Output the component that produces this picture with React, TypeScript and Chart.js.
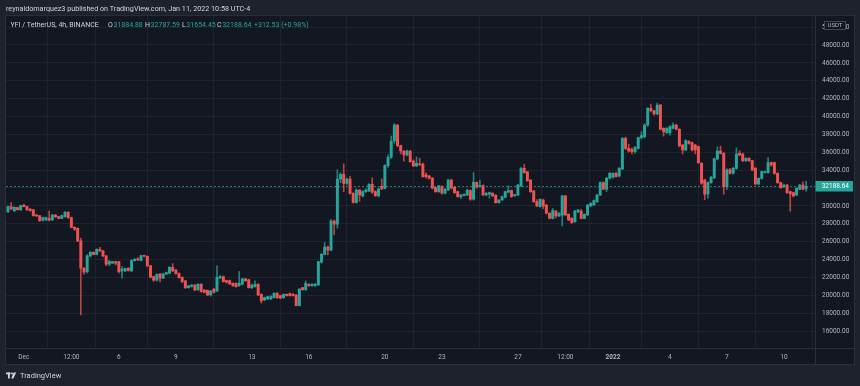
import React, { useEffect, useRef } from 'react';
import { Chart, registerables } from 'chart.js';

Chart.register(...registerables);

// ---- Data (4h candles, YFI/USDT, Nov 30 2021 -> Jan 11 2022) ----
const opens = [
  29357, 29880, 29430, 29800, 29560, 30100, 29920, 29650, 29550, 28980,
  28910, 28390, 28420, 28610, 28420, 28980, 28800, 28610, 28800, 29280,
  28690, 27600, 27490, 26080, 23020, 22640, 24400, 24810, 24580, 25140,
  24960, 24400, 23470, 23600, 23760, 23760, 22720, 22720, 23020, 22720,
  23870, 24060, 23910, 24430, 24360, 23280, 22080, 21680, 22380, 21900,
  22380, 22460, 23130, 22830, 22420, 22010, 21600, 20850, 20980, 21150,
  20630, 21220, 20560, 20550, 20030, 20700, 20480, 21950, 22100, 21640,
  21640, 21340, 21340, 21080, 21230, 21830, 21720, 20850, 20960, 21230,
  20110, 19480, 19590, 19590, 19740, 20220, 19960, 19740, 20110, 20180,
  20110, 20030, 18840, 20850, 20630, 21230, 21080, 21080, 21150, 23690,
  24580, 25400, 25030, 28310, 27940, 33010, 33530, 32520, 32990, 31400,
  30400, 31780, 31110, 31600, 31670, 32410, 31590, 31100, 32200, 31960,
  34500, 35430, 37260, 39050, 36740, 36140, 35700, 36140, 35020, 34470,
  34690, 34690, 33460, 33350, 33090, 32040, 31590, 32150, 31410, 31780,
  32900, 32080, 31590, 31030, 31150, 31220, 31710, 30740, 32640, 32150,
  32270, 31220, 31300, 31410, 31180, 30360, 30660, 30960, 31520, 31710,
  31150, 31220, 32230, 34200, 33800, 32900, 31670, 30470, 29920, 30660,
  30100, 29170, 28610, 29430, 28870, 28950, 31110, 29060, 28610, 28240,
  29320, 29430, 28610, 28980, 29990, 30100, 30480, 31220, 32600, 31860,
  33090, 33200, 33640, 33350, 34130, 37560, 36440, 36330, 36070, 36440,
  37630, 37750, 39050, 40910, 40650, 40280, 41290, 38680, 38190, 38190,
  38680, 39050, 38570, 36810, 36250, 37190, 37070, 36810, 36630, 34760,
  32900, 31300, 32600, 33160, 35250, 36140, 35880, 32150, 34020, 33650,
  34200, 35880, 35800, 35060, 35320, 35060, 34200, 32450, 33080, 33720,
  33720, 34840, 34840, 33640, 32600, 32150, 32340, 31600, 31480, 31220,
  31850, 32340, 31884.88,
];
const highs = [
  29990, 30360, 29900, 29860, 30080, 30180, 29990, 29700, 29600, 29050,
  28950, 28750, 28750, 29430, 29050, 29050, 28850, 28980, 29400, 29350,
  28750, 27650, 27550, 26400, 23100, 24550, 24900, 24900, 25200, 25350,
  25000, 24450, 23900, 23800, 23800, 23800, 23200, 23050, 23100, 23950,
  24100, 24200, 24500, 24500, 24400, 23350, 22150, 22400, 22450, 22450,
  22600, 23200, 23550, 22900, 22500, 22050, 21650, 21100, 21200, 21200,
  21300, 21300, 20650, 20600, 20550, 20750, 23280, 22200, 22150, 21700,
  21700, 21400, 21400, 22650, 21900, 21900, 21800, 21250, 21600, 21300,
  20150, 19800, 19900, 19950, 20300, 20300, 20000, 20150, 20150, 20250,
  20200, 20100, 20750, 20900, 21600, 21300, 21300, 21300, 23800, 24650,
  25900, 25500, 28500, 28400, 34020, 33700, 34700, 33100, 33300, 31500,
  31900, 31850, 31700, 31900, 32500, 33150, 31700, 32000, 33000, 34600,
  35700, 37800, 39200, 39100, 36800, 36200, 36250, 36200, 35140, 35500,
  35350, 34800, 33700, 33400, 33200, 32100, 32300, 32250, 31950, 33000,
  33000, 32150, 31650, 31300, 31350, 31850, 31800, 33720, 32700, 32900,
  32350, 31500, 31550, 31500, 31250, 30700, 31100, 31650, 32250, 31800,
  31300, 32400, 34300, 34690, 33850, 32950, 31700, 30700, 30800, 30750,
  30150, 29250, 29700, 29500, 29250, 31150, 31150, 29100, 28700, 29500,
  29600, 29600, 29100, 30150, 30350, 30650, 31300, 32700, 32700, 33200,
  33750, 33700, 33750, 34300, 37650, 37700, 36900, 36500, 36650, 37700,
  38300, 39200, 41000, 41400, 40700, 41500, 41350, 38750, 38750, 38950,
  39300, 39150, 38650, 36900, 37400, 37300, 37150, 36900, 36700, 34850,
  33000, 32700, 33300, 35350, 36600, 36700, 35950, 34150, 34200, 34300,
  36500, 36150, 35900, 35400, 35400, 35100, 34300, 33150, 33900, 33900,
  35400, 34900, 34900, 33700, 32650, 32450, 32400, 31650, 31550, 32050,
  32400, 32700, 32787.59,
];
const lows = [
  29250, 29580, 29380, 29520, 29500, 29880, 29500, 29400, 28850, 28800,
  28250, 28300, 28380, 28330, 28380, 28700, 28550, 28560, 28750, 28600,
  27550, 27250, 26000, 17800, 22350, 22500, 24300, 24500, 24500, 24900,
  24300, 23300, 23350, 23550, 23400, 22500, 21900, 22650, 22700, 22650,
  23800, 23900, 23850, 24300, 23200, 21950, 21550, 21600, 21500, 21850,
  22300, 22400, 22650, 22350, 21900, 21400, 20750, 20800, 20900, 20500,
  20550, 20350, 20250, 19950, 19900, 20250, 20400, 21850, 21450, 21350,
  21200, 21000, 20900, 21000, 21150, 21550, 20800, 20750, 20900, 19950,
  19100, 19400, 19500, 19500, 19700, 19650, 19600, 19650, 19900, 19900,
  19900, 18800, 18800, 20550, 20550, 21000, 21000, 21000, 21100, 23600,
  24500, 24500, 24950, 26750, 27500, 32600, 31600, 32400, 31300, 30300,
  30300, 30500, 31000, 31500, 31600, 31400, 31050, 31000, 31800, 31900,
  34300, 35300, 37000, 36600, 35800, 35000, 35600, 34900, 34400, 34400,
  34500, 33200, 33100, 33000, 31900, 31500, 31500, 31300, 31350, 31700,
  31900, 31400, 30950, 30800, 31100, 31150, 30600, 30650, 31950, 32100,
  31150, 31150, 30850, 31050, 30300, 30300, 30600, 30900, 31450, 30950,
  31050, 31150, 32150, 33650, 32750, 31500, 30400, 29900, 29850, 29700,
  29100, 28550, 28550, 28650, 28800, 27750, 28900, 28350, 28050, 28150,
  29250, 28550, 28550, 28900, 29950, 30050, 30400, 31150, 31800, 31600,
  33000, 33100, 33200, 33250, 34050, 36300, 36000, 35800, 35900, 36350,
  37500, 37600, 38900, 40500, 40150, 40200, 38500, 37800, 38100, 37900,
  38600, 38500, 36600, 35800, 36150, 36900, 36150, 35800, 34750, 32400,
  30700, 30850, 32500, 33050, 35150, 35800, 31300, 31800, 33550, 33550,
  34100, 35600, 34950, 34950, 34950, 33900, 32350, 32350, 33000, 33650,
  33650, 34450, 33550, 32500, 31950, 32050, 31400, 29400, 31000, 31150,
  31800, 31780, 31654.45,
];
const closes = [
  29916, 29650, 29840, 29580, 30030, 29920, 29550, 29470, 28910, 28870,
  28350, 28690, 28690, 28390, 28980, 28760, 28610, 28910, 29280, 28690,
  27600, 27380, 26080, 23020, 22570, 24400, 24810, 24580, 25140, 24960,
  24400, 23470, 23760, 23760, 23580, 22640, 22940, 23020, 22790, 23870,
  24020, 23950, 24430, 24360, 23280, 22010, 21680, 22350, 21900, 22380,
  22530, 23130, 22720, 22420, 21970, 21530, 20850, 21050, 21150, 20560,
  21220, 20410, 20330, 20030, 20480, 20330, 22010, 22100, 21530, 21450,
  21260, 21080, 20970, 21340, 21830, 21640, 20850, 21150, 21230, 20030,
  19360, 19740, 19850, 19850, 20220, 19740, 19660, 20110, 19960, 19960,
  19960, 18840, 20700, 20630, 21340, 21080, 21230, 21260, 23760, 24580,
  25400, 25080, 28310, 27940, 33010, 33530, 32520, 32990, 31400, 30400,
  31780, 31220, 31590, 31780, 32410, 31520, 31140, 31890, 31900, 34500,
  35430, 37260, 39050, 36740, 36140, 35700, 36140, 34950, 34470, 34760,
  34600, 33270, 33270, 33090, 31970, 31590, 32230, 31410, 31860, 32900,
  31970, 31480, 31030, 31220, 31300, 31780, 30740, 32640, 32080, 32270,
  31220, 31410, 31480, 31110, 30360, 30660, 31030, 31590, 31710, 31030,
  31220, 32340, 34200, 33720, 32820, 31590, 30470, 29990, 30740, 29990,
  29170, 28610, 29470, 28870, 29170, 31110, 28980, 28420, 28130, 29430,
  29540, 28610, 29060, 30100, 30290, 30590, 31220, 32600, 31860, 33090,
  33640, 33640, 33270, 34200, 37560, 36440, 36140, 36070, 36550, 37630,
  37860, 39050, 40910, 40650, 40280, 41290, 38570, 38300, 38680, 38860,
  39050, 38570, 36700, 36250, 37300, 37000, 36250, 36250, 34840, 32530,
  31300, 32640, 33200, 35250, 36140, 35880, 32150, 34020, 33650, 34200,
  35800, 35700, 35060, 35320, 35060, 34020, 32450, 33080, 33830, 33830,
  34840, 34580, 33640, 32600, 32040, 32340, 31480, 31330, 31110, 31970,
  32340, 31880, 32188.64,
];

const timeTickIndex = [5, 20, 35, 53, 77, 95, 119, 137, 161, 176, 191, 209, 227, 245];
const timeTickLabels = ['Dec', '12:00', '6', '9', '13', '16', '20', '23', '27', '12:00', '2022', '4', '7', '10'];
const priceTickValues = [16000, 18000, 20000, 22000, 24000, 26000, 28000, 30000, 32000, 34000, 36000, 38000, 40000, 42000, 44000, 46000, 48000, 50000];

const headerText = 'reynaldomarquez3 published on TradingView.com, Jan 11, 2022 10:58 UTC-4';
const symbolText = 'YFI / TetherUS, 4h, BINANCE';
const ohlcLabels = ['O', 'H', 'L', 'C'];
const ohlcValues = ['31884.88', '32787.59', '31654.45', '32188.64'];
const changeText = '+312.53 (+0.98%)';
const lastPrice = 32188.64;
const currencyText = 'USDT';
const footerText = 'TradingView';

// ---- Styles ----
const OUTER_BG = '#1e222d';
const PANE_BG = '#131722';
const BORDER = '#2a2e39';
const GRID = 'rgba(42,46,57,0.55)';
const TEXT = '#b2b5be';
const TEXT_LIGHT = '#d1d4dc';
const UP = '#26a69a';
const DOWN = '#ef5350';
const UP_WICK = 'rgba(38,166,154,0.75)';
const DOWN_WICK = 'rgba(239,83,80,0.75)';
const FONT = 'Roboto, "Liberation Sans", Arial, sans-serif';

const PANE = { left: 5.5, top: 15.5, right: 854.5, bottom: 364.5 };
const PLOT_RIGHT = 815.5;
const PLOT_BOTTOM = 348.5;
const LEGEND_X = [108, 145, 182, 217];
const CHANGE_X = 254;

const framePlugin = {
  id: 'tvFrame',
  beforeDraw(chart: any) {
    const { ctx, width, height } = chart;
    ctx.save();
    ctx.fillStyle = OUTER_BG;
    ctx.fillRect(0, 0, width, height);
    ctx.fillStyle = PANE_BG;
    ctx.fillRect(PANE.left, PANE.top, PANE.right - PANE.left, PANE.bottom - PANE.top);
    ctx.restore();
  },
  beforeDatasetsDraw(chart: any) {
    const { ctx, chartArea } = chart;
    const y = Math.round(chart.scales.y.getPixelForValue(lastPrice)) + 0.5;
    ctx.save();
    ctx.strokeStyle = 'rgba(38,166,154,0.7)';
    ctx.lineWidth = 1;
    ctx.setLineDash([2, 2]);
    ctx.beginPath();
    ctx.moveTo(chartArea.left, y);
    ctx.lineTo(chartArea.right, y);
    ctx.stroke();
    ctx.restore();
  },
  afterDraw(chart: any) {
    const { ctx } = chart;
    ctx.save();
    // frame lines
    ctx.strokeStyle = BORDER;
    ctx.lineWidth = 1;
    ctx.strokeRect(PANE.left, PANE.top, PANE.right - PANE.left, PANE.bottom - PANE.top);
    ctx.beginPath();
    ctx.moveTo(PLOT_RIGHT, PANE.top);
    ctx.lineTo(PLOT_RIGHT, PANE.bottom);
    ctx.moveTo(PANE.left, PLOT_BOTTOM);
    ctx.lineTo(PANE.right, PLOT_BOTTOM);
    ctx.stroke();

    // header
    ctx.textBaseline = 'middle';
    ctx.textAlign = 'left';
    ctx.fillStyle = TEXT_LIGHT;
    ctx.font = `7.2px ${FONT}`;
    ctx.fillText(headerText, 6, 9);

    // legend line
    ctx.font = `7px ${FONT}`;
    const ly = 25;
    ctx.fillStyle = TEXT_LIGHT;
    ctx.fillText(symbolText, 10.5, ly);
    for (let i = 0; i < ohlcLabels.length; i++) {
      ctx.fillStyle = TEXT_LIGHT;
      ctx.fillText(ohlcLabels[i], LEGEND_X[i], ly);
      const w = ctx.measureText(ohlcLabels[i]).width;
      ctx.fillStyle = UP;
      ctx.fillText(ohlcValues[i], LEGEND_X[i] + w + 0.6, ly);
    }
    ctx.fillStyle = UP;
    ctx.fillText(changeText, CHANGE_X, ly);

    // USDT box
    ctx.fillStyle = PANE_BG;
    ctx.fillRect(824.5, 21.5, 21, 8);
    ctx.strokeStyle = '#434651';
    ctx.strokeRect(824.5, 21.5, 21, 8);
    ctx.fillStyle = TEXT;
    ctx.textAlign = 'center';
    ctx.font = `6px ${FONT}`;
    ctx.fillText(currencyText, 835, 25.7);

    // last price label
    const py = chart.scales.y.getPixelForValue(lastPrice);
    ctx.fillStyle = UP;
    ctx.fillRect(PLOT_RIGHT, Math.round(py) - 5, 853 - PLOT_RIGHT, 10.5);
    ctx.fillStyle = '#ffffff';
    ctx.textAlign = 'right';
    ctx.font = `6.5px ${FONT}`;
    ctx.fillText(lastPrice.toFixed(2), 849, Math.round(py) + 0.3);

    // footer logo + text
    ctx.fillStyle = TEXT_LIGHT;
    ctx.fillRect(6, 372.5, 4.5, 1.8);
    ctx.fillRect(8, 372.5, 1.8, 6);
    ctx.beginPath();
    ctx.arc(12, 373.6, 1, 0, Math.PI * 2);
    ctx.fill();
    ctx.beginPath();
    ctx.moveTo(13.6, 372.5);
    ctx.lineTo(16.2, 372.5);
    ctx.lineTo(13.4, 378.5);
    ctx.lineTo(11.2, 378.5);
    ctx.closePath();
    ctx.fill();
    ctx.textAlign = 'left';
    ctx.font = `7.5px ${FONT}`;
    ctx.fillText(footerText, 20, 376);
    ctx.restore();
  },
};

export default function App() {
  const canvasRef = useRef<HTMLCanvasElement | null>(null);

  useEffect(() => {
    document.body.style.margin = '0';
    document.body.style.background = OUTER_BG;
    const canvas = canvasRef.current;
    if (!canvas) return;

    const n = closes.length;
    const bodyData = [] as any[];
    const wickData = [] as any[];
    const bodyColors: string[] = [];
    const wickColors: string[] = [];
    for (let i = 0; i < n; i++) {
      bodyData.push({ x: i, y: [opens[i], closes[i]] });
      wickData.push({ x: i, y: [lows[i], highs[i]] });
      const up = closes[i] >= opens[i];
      bodyColors.push(up ? UP : DOWN);
      wickColors.push(up ? UP_WICK : DOWN_WICK);
    }

    // pixel mapping: 48000 -> y 45, 16000 -> y 331 ; chart area 15.5..348.5
    const pxPerUnit = 286 / 32000;
    const yMax = 48000 + (45 - 15.5) / pxPerUnit;
    const yMin = 16000 - (348.5 - 331) / pxPerUnit;
    const spacing = 3.167;
    const xMin = -(8 - 6) / spacing;
    const xMax = xMin + (PLOT_RIGHT - 6) / spacing;

    const chart = new Chart(canvas, {
      type: 'bar',
      data: {
        datasets: [
          {
            label: 'body',
            data: bodyData,
            backgroundColor: bodyColors,
            borderWidth: 0,
            barThickness: 2.3,
            minBarLength: 1,
            grouped: false,
            order: 0,
          } as any,
          {
            label: 'wick',
            data: wickData,
            backgroundColor: wickColors,
            borderWidth: 0,
            barThickness: 1,
            minBarLength: 1,
            grouped: false,
            order: 1,
          } as any,
        ],
      },
      options: {
        responsive: false,
        maintainAspectRatio: false,
        animation: false,
        devicePixelRatio: 1,
        layout: { padding: { left: 6, right: 5, top: 15.5, bottom: 21.5 } },
        plugins: {
          legend: { display: false },
          tooltip: { enabled: false },
        },
        scales: {
          x: {
            type: 'linear',
            min: xMin,
            max: xMax,
            offset: false,
            border: { display: false },
            grid: { color: GRID, lineWidth: 1, drawTicks: false },
            afterBuildTicks: (scale: any) => {
              scale.ticks = timeTickIndex.map((v) => ({ value: v }));
            },
            afterFit: (scale: any) => {
              scale.height = 16;
            },
            ticks: {
              autoSkip: false,
              maxRotation: 0,
              padding: 4.5,
              color: TEXT,
              font: (c: any) => ({
                family: FONT,
                size: 6.5,
                weight: c.tick && c.tick.label === '2022' ? 'bold' : 'normal',
              }),
              callback: (v: any) => {
                const k = timeTickIndex.indexOf(Number(v));
                return k >= 0 ? timeTickLabels[k] : '';
              },
            },
          },
          y: {
            type: 'linear',
            position: 'right',
            min: yMin,
            max: yMax,
            border: { display: false },
            grid: { color: GRID, lineWidth: 1, drawTicks: false },
            afterBuildTicks: (scale: any) => {
              scale.ticks = priceTickValues.map((v) => ({ value: v }));
            },
            afterFit: (scale: any) => {
              scale.width = 39.5;
            },
            ticks: {
              crossAlign: 'near',
              padding: 6.5,
              color: TEXT,
              font: { family: FONT, size: 6.5 },
              callback: (v: any) => Number(v).toFixed(2),
            },
          },
        },
      } as any,
      plugins: [framePlugin],
    });

    return () => chart.destroy();
  }, []);

  return (
    <div style={{ width: 860, height: 386, background: OUTER_BG }}>
      <canvas ref={canvasRef} width={860} height={386} style={{ display: 'block', width: 860, height: 386 }} />
    </div>
  );
}
